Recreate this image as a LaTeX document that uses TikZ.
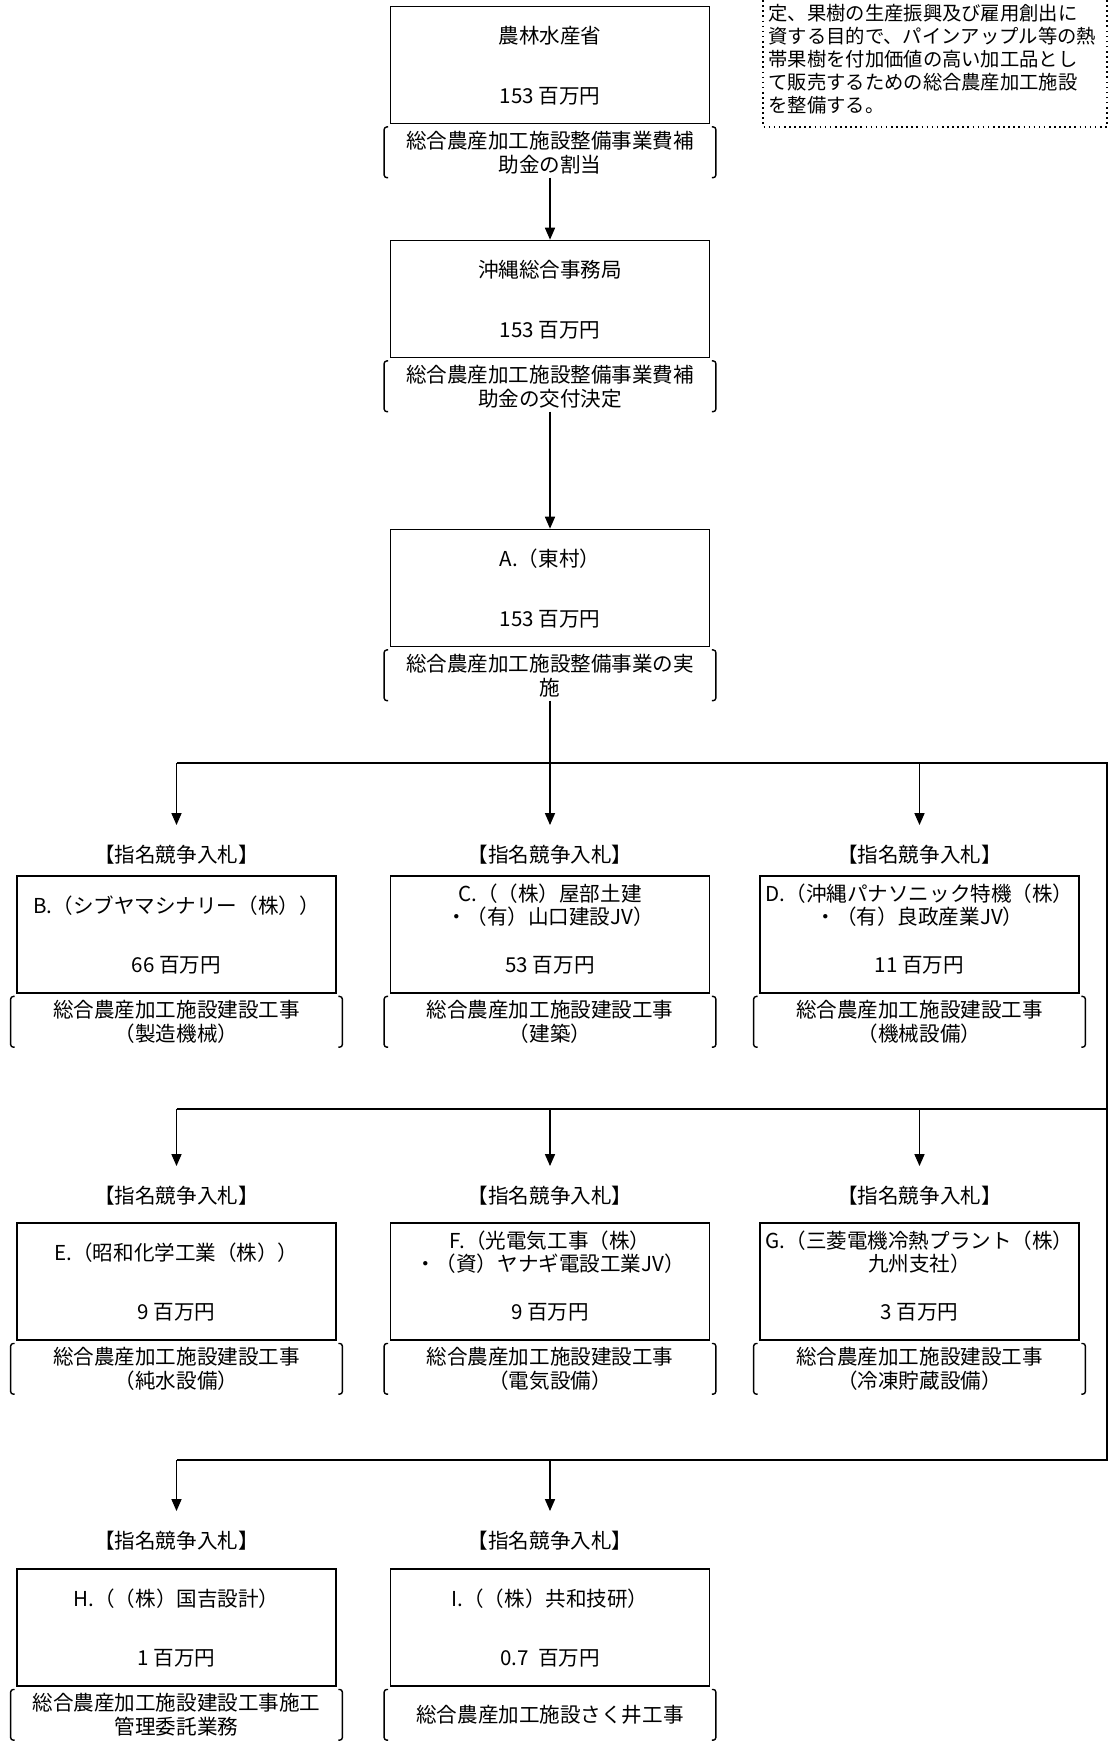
\documentclass[tikz,border=0pt]{standalone}
\usepackage{fontspec}
\setmainfont{Noto Sans CJK JP}
\usetikzlibrary{arrows.meta,calc}

\begin{document}
\begin{tikzpicture}[
    every node/.style={font=\fontsize{11.7}{13.6}\selectfont},
    orgrect/.style={draw,line width=0.9pt,minimum width=6.38cm,minimum height=2.34cm},
    txt/.style={inner sep=0pt,align=center},
    purpose/.style={inner sep=0pt,minimum width=6.62cm,minimum height=1.0cm,align=center},
    brk/.style={line width=0.8pt,rounded corners=1.5pt},
    bid/.style={inner sep=0pt},
    conn/.style={line width=0.9pt},
    arr/.style={conn,-{Triangle[length=0.24cm,width=0.2cm]}}
]
     \useasboundingbox (0,0) rectangle (22.22,-34.82);

     \def\colL{3.53}
     \def\colM{11.0}
     \def\colR{18.39}
     \def\rightx{22.14}

     \newcommand\orgblock[6]{%{name}{x}{y}{entity}{amount}{purpose}
     \node[orgrect] (#1) at (#2,#3) {};
     \node[txt] (#1-n) at ($(#1.north)+(0,-0.6)$) {#4};
     \node[txt] (#1-m) at ($(#1.south)+(0,0.57)$) {#5};
     \node[purpose] (#1-p) at ($(#1.south)+(0,-0.56)$) {#6};
     \draw[brk] ([xshift=0.08cm]#1-p.north west) -- (#1-p.north west) -- (#1-p.south west) -- ([xshift=0.08cm]#1-p.south west);
     \draw[brk] ([xshift=-0.08cm]#1-p.north east) -- (#1-p.north east) -- (#1-p.south east) -- ([xshift=-0.08cm]#1-p.south east);
     }

     % purpose of the project (cut at the top)
     \draw[dotted,line width=0.9pt] (15.26,0.2) |- (\rightx,-2.54) -- (\rightx,0.2);
     \node[anchor=west,align=left,inner sep=0pt,font=\fontsize{11}{13.1}\selectfont] (goal) at (15.36,-1.18)
        {定、果樹の生産振興及び雇用創出に\\資する目的で、パインアップル等の熱\\帯果樹を付加価値の高い加工品とし\\て販売するための総合農産加工施設\\を整備する。};

     \orgblock{maff}{\colM}{-1.30}{農林水産省}{153 百万円}{総合農産加工施設整備事業費補\\助金の割当}
     \orgblock{office}{\colM}{-5.98}{沖縄総合事務局}{153 百万円}{総合農産加工施設整備事業費補\\助金の交付決定}
     \orgblock{vill}{\colM}{-11.76}{A.（東村）}{153 百万円}{総合農産加工施設整備事業の実\\施}
     \draw[arr] (maff-p) -- (office);
     \draw[arr] (office-p) -- (vill);

     \orgblock{firmB}{\colL}{-18.69}{B.（シブヤマシナリー（株））}{66 百万円}{総合農産加工施設建設工事\\（製造機械）}
     \orgblock{firmC}{\colM}{-18.69}{C.（（株）屋部土建\\・（有）山口建設JV）}{53 百万円}{総合農産加工施設建設工事\\（建築）}
     \orgblock{firmD}{\colR}{-18.69}{D.（沖縄パナソニック特機（株）\\・（有）良政産業JV）}{11 百万円}{総合農産加工施設建設工事\\（機械設備）}

     \orgblock{firmE}{\colL}{-25.63}{E.（昭和化学工業（株））}{9 百万円}{総合農産加工施設建設工事\\（純水設備）}
     \orgblock{firmF}{\colM}{-25.63}{F.（光電気工事（株）\\・（資）ヤナギ電設工業JV）}{9 百万円}{総合農産加工施設建設工事\\（電気設備）}
     \orgblock{firmG}{\colR}{-25.63}{G.（三菱電機冷熱プラント（株）\\九州支社）}{3 百万円}{総合農産加工施設建設工事\\（冷凍貯蔵設備）}

     \orgblock{firmH}{\colL}{-32.55}{H.（（株）国吉設計）}{1 百万円}{総合農産加工施設建設工事施工\\管理委託業務}
     \orgblock{firmI}{\colM}{-32.55}{I.（（株）共和技研）}{0.7\ \ 百万円}{総合農産加工施設さく井工事}

     \foreach \n/\x/\y in {B/\colL/-17.10, C/\colM/-17.10, D/\colR/-17.10,
                           E/\colL/-23.92, F/\colM/-23.92, G/\colR/-23.92,
                           H/\colL/-30.82, I/\colM/-30.82}
        \node[bid] (bid\n) at (\x,\y) {【指名競争入札】};

     % branch lines
     \coordinate (l1) at (\colL,-15.26);
     \coordinate (l2) at (\colL,-22.18);
     \coordinate (l3) at (\colL,-29.20);
     \coordinate (r1) at (\rightx,-15.26);
     \coordinate (r2) at (\rightx,-22.18);
     \coordinate (r3) at (\rightx,-29.20);
     \draw[conn] (vill-p) -- (vill-p |- l1);
     \draw[conn] (l1) -- (r1) -- (r3) -- (l3);
     \draw[conn] (l2) -- (r2);

     \foreach \n/\l in {B/l1, C/l1, D/l1, E/l2, F/l2, G/l2, H/l3, I/l3}
        \draw[arr,shorten >=0.4cm] (bid\n |- \l) -- (bid\n);
\end{tikzpicture}
\end{document}
